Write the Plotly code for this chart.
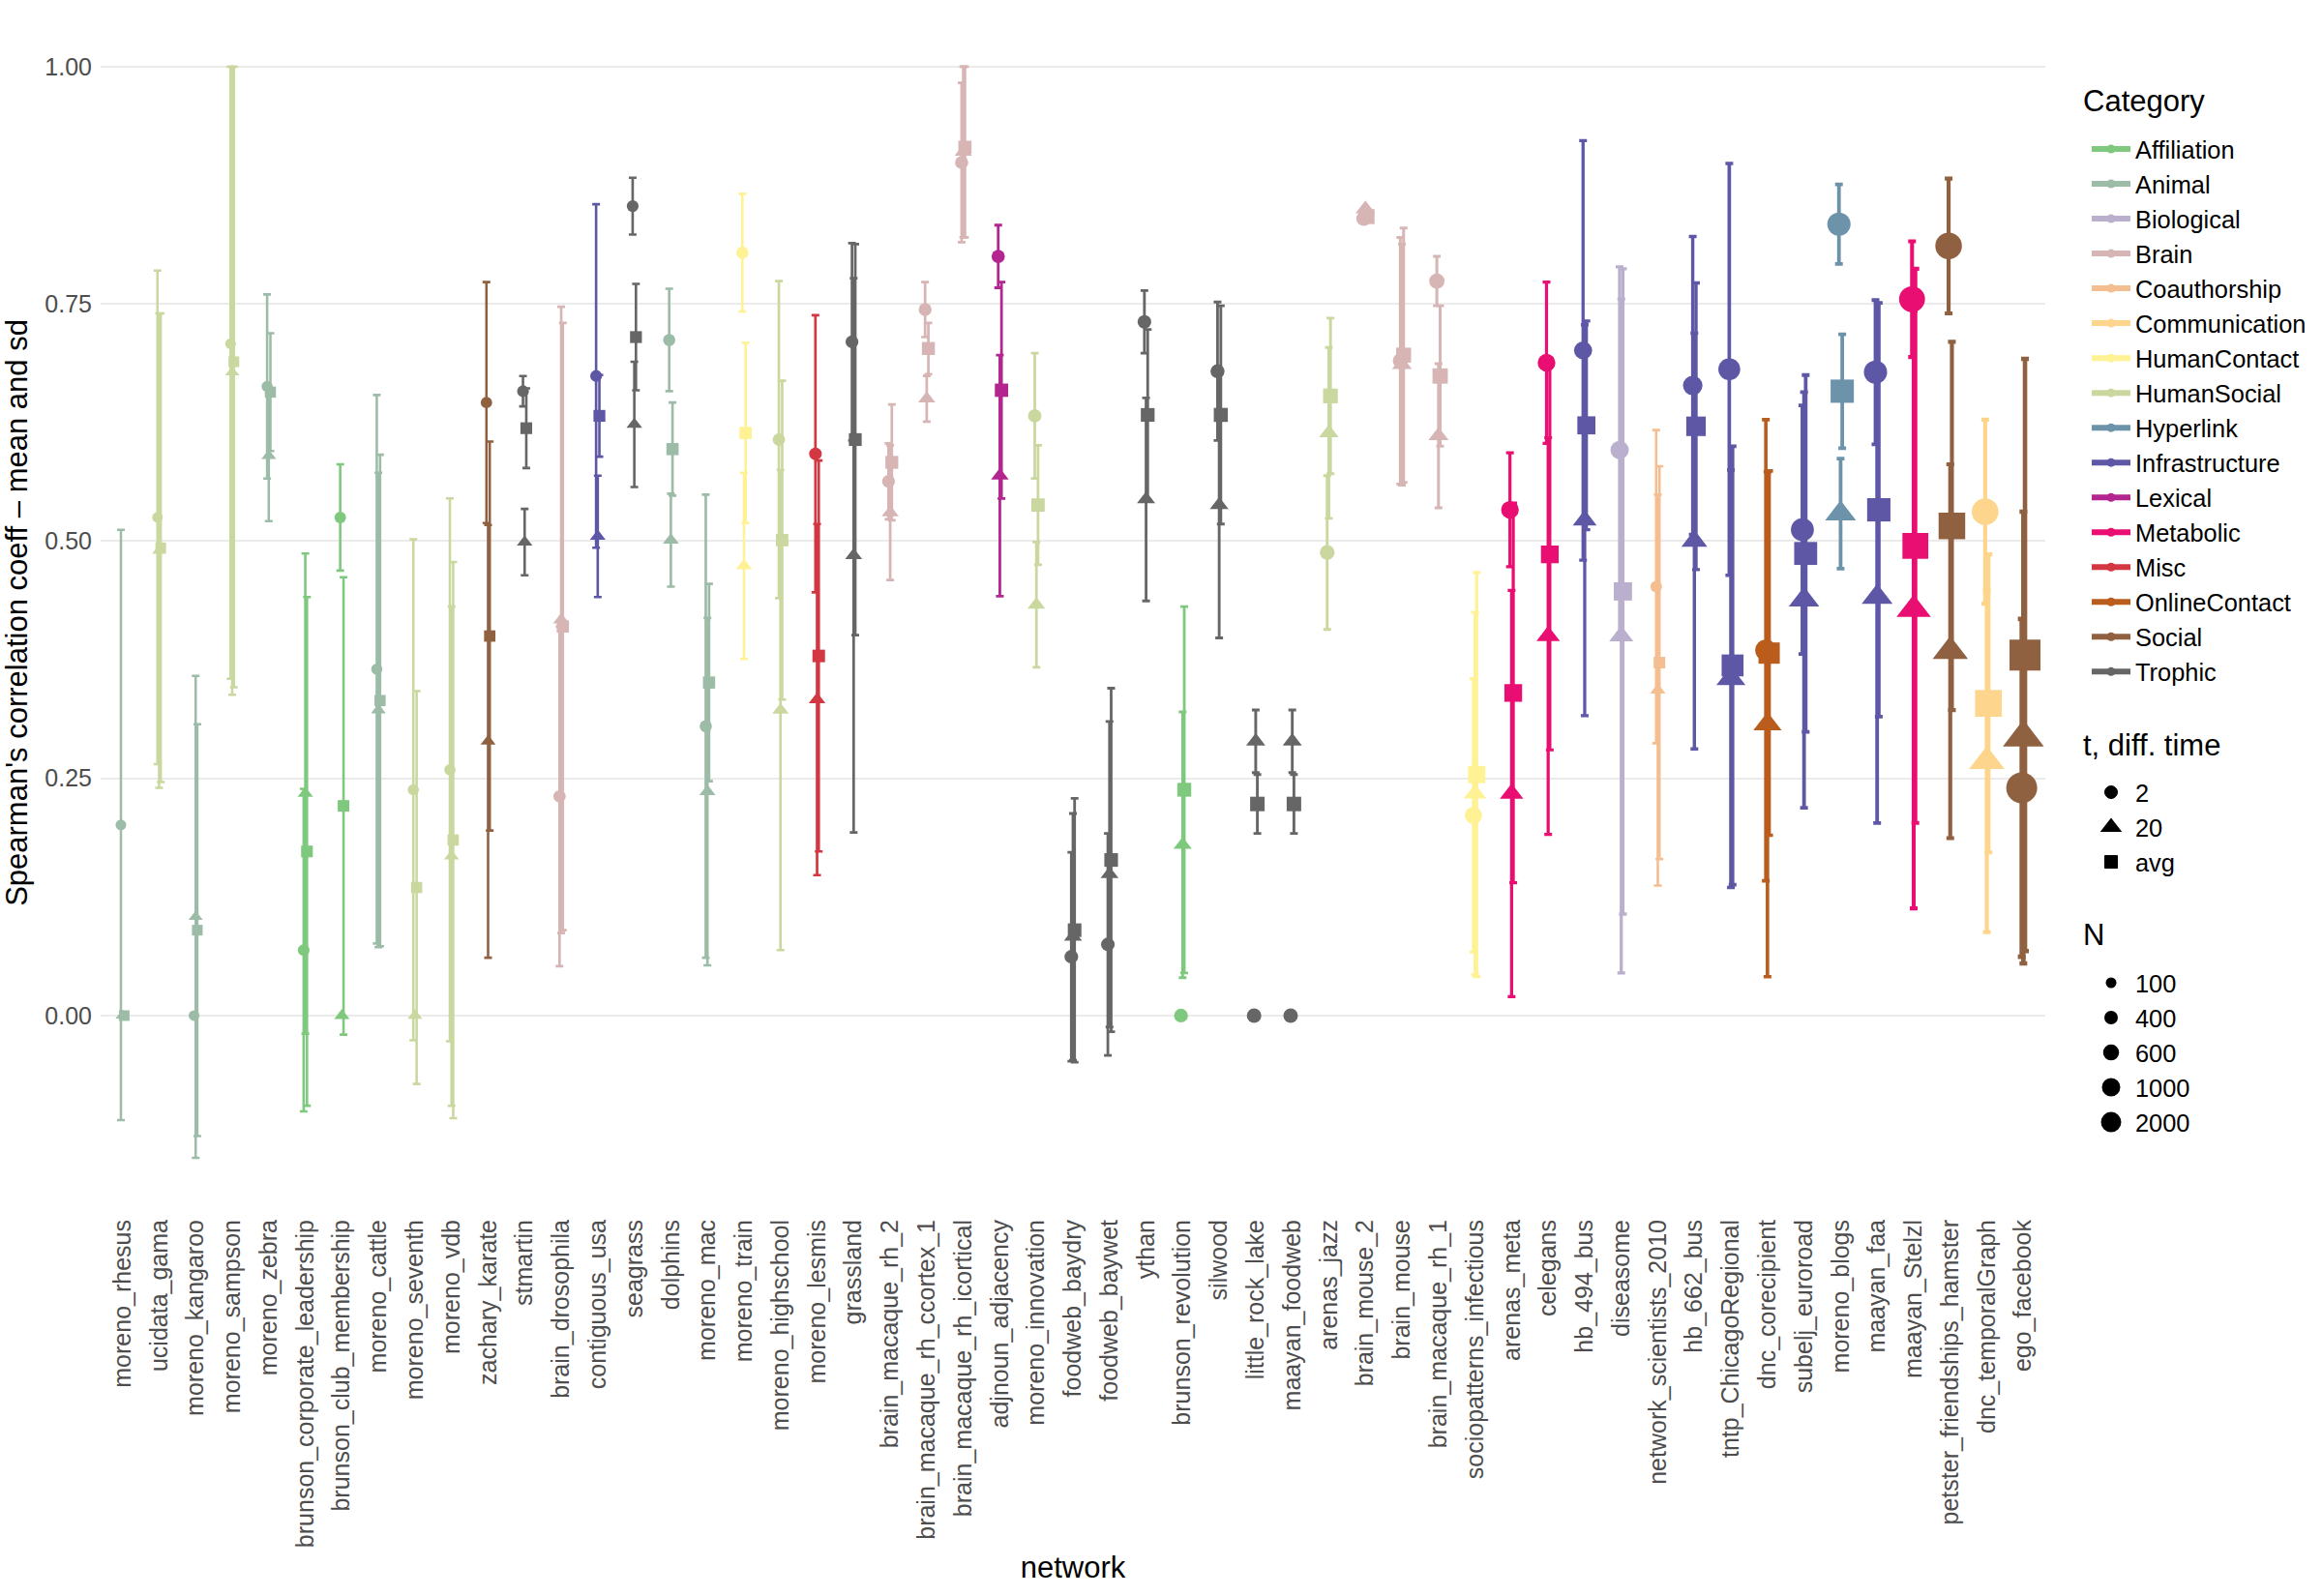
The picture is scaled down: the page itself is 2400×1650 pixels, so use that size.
import math
import plotly.graph_objects as go

networks = [
    "moreno_rhesus", "ucidata_gama", "moreno_kangaroo", "moreno_sampson", "moreno_zebra",
    "brunson_corporate_leadership", "brunson_club_membership", "moreno_cattle", "moreno_seventh",
    "moreno_vdb", "zachary_karate", "stmartin", "brain_drosophila", "contiguous_usa", "seagrass",
    "dolphins", "moreno_mac", "moreno_train", "moreno_highschool", "moreno_lesmis", "grassland",
    "brain_macaque_rh_2", "brain_macaque_rh_ccortex_1", "brain_macaque_rh_icortical",
    "adjnoun_adjacency", "moreno_innovation", "foodweb_baydry", "foodweb_baywet", "ythan",
    "brunson_revolution", "silwood", "little_rock_lake", "maayan_foodweb", "arenas_jazz",
    "brain_mouse_2", "brain_mouse", "brain_macaque_rh_1", "sociopatterns_infectious",
    "arenas_meta", "celegans", "hb_494_bus", "diseasome", "network_scientists_2010",
    "hb_662_bus", "tntp_ChicagoRegional", "dnc_corecipient", "subelj_euroroad", "moreno_blogs",
    "maayan_faa", "maayan_Stelzl", "petster_friendships_hamster", "dnc_temporalGraph",
    "ego_facebook",
]

categories = [
    "Animal", "HumanSocial", "Animal", "HumanSocial", "Animal",
    "Affiliation", "Affiliation", "Animal", "HumanSocial",
    "HumanSocial", "Social", "Trophic", "Brain", "Infrastructure", "Trophic",
    "Animal", "Animal", "HumanContact", "HumanSocial", "Misc", "Trophic",
    "Brain", "Brain", "Brain",
    "Lexical", "HumanSocial", "Trophic", "Trophic", "Trophic",
    "Affiliation", "Trophic", "Trophic", "Trophic", "HumanSocial",
    "Brain", "Brain", "Brain", "HumanContact",
    "Metabolic", "Metabolic", "Infrastructure", "Biological", "Coauthorship",
    "Infrastructure", "Infrastructure", "OnlineContact", "Infrastructure", "Hyperlink",
    "Infrastructure", "Metabolic", "Social", "Communication",
    "Social",
]

n_nodes = [
    16, 16, 17, 18, 27, 44, 40, 28, 29, 32, 34, 45, 65, 49, 49, 62, 62, 64, 70, 77, 88,
    91, 94, 105, 112, 117, 128, 128, 135, 141, 154, 183, 183, 198, 213, 213, 242, 410,
    453, 453, 494, 516, 40, 662, 1000, 906, 1174, 1224, 1226, 1706, 1858, 1891, 2888,
]

mean_t2 = [
    0.201, 0.525, 0.000, 0.708, 0.663, 0.069, 0.525, 0.365, 0.238, 0.259, 0.646, 0.658,
    0.231, 0.674, 0.853, 0.712, 0.305, 0.804, 0.607, 0.592, 0.710, 0.563, 0.744, 0.899,
    0.800, 0.632, 0.062, 0.075, 0.731, 0.000, 0.679, 0.000, 0.000, 0.488, 0.840, 0.690,
    0.774, 0.211, 0.533, 0.688, 0.701, 0.596, 0.452, 0.664, 0.681, 0.385, 0.512, 0.834,
    0.678, 0.755, 0.811, 0.531, 0.240,
]
sd_t2 = [
    0.311, 0.260, 0.000, 0.353, 0.097, 0.170, 0.056, 0.289, 0.264, 0.286, 0.127, 0.016,
    0.179, 0.181, 0.030, 0.054, 0.244, 0.062, 0.167, 0.146, 0.104, 0.040, 0.029, 0.084,
    0.033, 0.066, 0.110, 0.117, 0.033, 0.000, 0.073, 0.000, 0.000, 0.081, 0.000, 0.130,
    0.026, 0.144, 0.060, 0.085, 0.221, 0.193, 0.165, 0.157, 0.217, 0.243, 0.131, 0.042,
    0.076, 0.061, 0.071, 0.097, 0.178,
]
mean_t20 = [
    0.000, 0.490, 0.104, 0.678, 0.590, 0.234, 0.000, 0.322, 0.000, 0.168, 0.289, 0.499,
    0.417, 0.505, 0.623, 0.501, 0.236, 0.474, 0.322, 0.333, 0.485, 0.530, 0.650, 0.910,
    0.569, 0.433, 0.083, 0.149, 0.544, 0.180, 0.538, 0.289, 0.289, 0.614, 0.850, 0.686,
    0.611, 0.234, 0.234, 0.400, 0.522, 0.400, 0.343, 0.500, 0.355, 0.307, 0.438, 0.529,
    0.441, 0.428, 0.384, 0.268, 0.293,
]
sd_t20 = [
    0.000, 0.250, 0.254, 0.340, 0.069, 0.253, 0.000, 0.250, 0.000, 0.263, 0.228, 0.035,
    0.330, 0.064, 0.066, 0.049, 0.183, 0.098, 0.253, 0.185, 0.292, 0.071, 0.024, 0.090,
    0.127, 0.066, 0.130, 0.161, 0.107, 0.140, 0.140, 0.033, 0.033, 0.090, 0.000, 0.127,
    0.076, 0.191, 0.214, 0.209, 0.206, 0.355, 0.206, 0.219, 0.220, 0.266, 0.219, 0.058,
    0.238, 0.315, 0.197, 0.180, 0.238,
]
mean_avg = [
    0.000, 0.493, 0.090, 0.689, 0.657, 0.173, 0.221, 0.332, 0.135, 0.185, 0.400, 0.619,
    0.410, 0.632, 0.715, 0.597, 0.351, 0.614, 0.501, 0.379, 0.607, 0.583, 0.703, 0.915,
    0.659, 0.538, 0.090, 0.164, 0.633, 0.238, 0.633, 0.223, 0.223, 0.653, 0.842, 0.696,
    0.674, 0.254, 0.340, 0.486, 0.622, 0.447, 0.372, 0.621, 0.369, 0.382, 0.487, 0.658,
    0.533, 0.495, 0.516, 0.329, 0.380,
]
sd_avg = [
    0.000, 0.247, 0.217, 0.343, 0.062, 0.268, 0.241, 0.259, 0.207, 0.293, 0.205, 0.042,
    0.320, 0.043, 0.056, 0.049, 0.104, 0.095, 0.168, 0.206, 0.206, 0.061, 0.027, 0.095,
    0.114, 0.063, 0.139, 0.181, 0.090, 0.193, 0.115, 0.031, 0.031, 0.082, 0.000, 0.134,
    0.074, 0.213, 0.200, 0.206, 0.110, 0.340, 0.207, 0.151, 0.231, 0.192, 0.188, 0.060,
    0.218, 0.292, 0.194, 0.157, 0.312,
]

category_order = [
    "Affiliation", "Animal", "Biological", "Brain", "Coauthorship", "Communication",
    "HumanContact", "HumanSocial", "Hyperlink", "Infrastructure", "Lexical", "Metabolic",
    "Misc", "OnlineContact", "Social", "Trophic",
]
category_colors = [
    "#7FC97F", "#9CBCA7", "#BAB0CE", "#D7B5B5", "#F5BE90", "#FED58C",
    "#FFF295", "#CAD89F", "#6D93AA", "#5D57A6", "#B3258F", "#E90E71",
    "#D33741", "#B95C1C", "#8F6141", "#666666",
]
time_labels = ["2", "20", "avg"]
size_legend_values = [100, 400, 600, 1000, 2000]

color_of = dict(zip(category_order, category_colors))
FONT = "Liberation Sans, Arial, sans-serif"

# plot-area geometry in pixels (used to place legends in paper coordinates)
W, H = 2400, 1650
ML, MR, MT, MB = 104, 285, 12, 395
PW, PH = W - ML - MR, H - MT - MB


def px_to_paper_x(px):
    return (px - ML) / PW


def px_to_paper_y(py):
    return (H - MB - py) / PH


def diameter(n):
    return 9.3 + 0.422 * math.sqrt(n)


series = [
    (mean_t2, sd_t2, "circle", -0.045, 1.0),
    (mean_t20, sd_t20, "triangle-up", 0.0, 1.15),
    (mean_avg, sd_avg, "square", 0.045, 1.0),
]

fig = go.Figure()
for i, net in enumerate(networks):
    col = color_of[categories[i]]
    d = diameter(n_nodes[i])
    thick = 1.4 + 0.1 * d
    for vals, sds, sym, off, scale in series:
        v = vals[i]
        s = sds[i]
        if s > 0:
            eb = dict(type="data", symmetric=False, array=[min(v + s, 1.0) - v],
                      arrayminus=[s], color=col, thickness=thick, width=4)
        else:
            eb = dict(visible=False)
        fig.add_trace(go.Scatter(
            x=[i + off], y=[v], mode="markers",
            marker=dict(symbol=sym, size=d * scale, color=col, line=dict(width=0)),
            error_y=eb, showlegend=False, hoverinfo="skip",
        ))

# Legend: Category
for cat in category_order:
    fig.add_trace(go.Scatter(
        x=[None], y=[None], mode="lines+markers", name=cat,
        line=dict(color=color_of[cat], width=6),
        marker=dict(color=color_of[cat], size=9, symbol="circle"),
        legend="legend", showlegend=True,
    ))
# Legend: t, diff. time  (outline width enlarges the glyph past the legend size cap)
for lab, sym, sz, lw in zip(time_labels, ["circle", "triangle-up", "square"],
                            [13, 16, 13], [1, 2, 1]):
    fig.add_trace(go.Scatter(
        x=[None], y=[None], mode="markers", name=lab,
        marker=dict(color="black", size=sz, symbol=sym, line=dict(color="black", width=lw)),
        legend="legend2", showlegend=True,
    ))
# Legend: N
for nv, sz, lw in zip(size_legend_values, [11, 14, 15, 16, 16], [0, 0, 1.5, 3, 5]):
    fig.add_trace(go.Scatter(
        x=[None], y=[None], mode="markers", name=str(nv),
        marker=dict(color="black", size=sz, symbol="circle", line=dict(color="black", width=lw)),
        legend="legend3", showlegend=True,
    ))

legend_common = dict(
    font=dict(family=FONT, size=25.4, color="black"),
    bgcolor="rgba(0,0,0,0)", borderwidth=0, xanchor="left", yanchor="top",
    itemsizing="trace", tracegroupgap=0, itemwidth=40,
)
LEG_X = px_to_paper_x(2157)
TITLE_X = px_to_paper_x(2152)

title_font = dict(family=FONT, size=31, color="black")
annotations = [
    dict(text="Category", x=TITLE_X, y=px_to_paper_y(104), xref="paper", yref="paper",
         xanchor="left", yanchor="middle", showarrow=False, font=title_font),
    dict(text="t, diff. time", x=TITLE_X, y=px_to_paper_y(770), xref="paper", yref="paper",
         xanchor="left", yanchor="middle", showarrow=False, font=title_font),
    dict(text="N", x=TITLE_X, y=px_to_paper_y(966), xref="paper", yref="paper",
         xanchor="left", yanchor="middle", showarrow=False, font=title_font),
]

fig.update_layout(
    width=W, height=H,
    margin=dict(l=ML, r=MR, t=MT, b=MB),
    paper_bgcolor="white", plot_bgcolor="white",
    font=dict(family=FONT, size=25, color="#4D4D4D"),
    annotations=annotations,
    legend=dict(x=LEG_X, y=px_to_paper_y(131), **legend_common),
    legend2=dict(x=LEG_X, y=px_to_paper_y(796), **legend_common),
    legend3=dict(x=LEG_X, y=px_to_paper_y(993), **legend_common),
    xaxis=dict(
        range=[-0.6, len(networks) - 0.4],
        tickmode="array", tickvals=list(range(len(networks))), ticktext=networks,
        tickangle=-90, showgrid=False, zeroline=False, showline=False, ticks="",
        tickfont=dict(family=FONT, size=25, color="#4D4D4D"),
        title=dict(text="network", font=title_font, standoff=10),
    ),
    yaxis=dict(
        range=[-0.209, 1.058],
        tickmode="array", tickvals=[0, 0.25, 0.5, 0.75, 1.0],
        ticktext=["0.00", "0.25", "0.50", "0.75", "1.00"],
        showgrid=True, gridcolor="#EBEBEB", gridwidth=2, zeroline=False, showline=False,
        ticks="", ticklabelstandoff=8,
        tickfont=dict(family=FONT, size=25, color="#4D4D4D"),
        title=dict(text="Spearman's correlation coeff – mean and sd",
                   font=title_font, standoff=10),
    ),
)

fig.write_html("out.html")
